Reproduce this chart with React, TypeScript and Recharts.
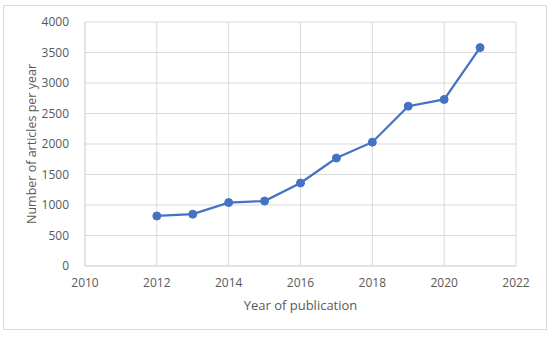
import React from 'react';
import { LineChart, Line, XAxis, YAxis, CartesianGrid, Label } from 'recharts';

const years = [2012, 2013, 2014, 2015, 2016, 2017, 2018, 2019, 2020, 2021];
const articles = [820, 850, 1040, 1065, 1360, 1770, 2030, 2620, 2730, 3580];
const xTicks = [2010, 2012, 2014, 2016, 2018, 2020, 2022];
const yTicks = [0, 500, 1000, 1500, 2000, 2500, 3000, 3500, 4000];

const data = years.map((y, i) => ({ year: y, count: articles[i] }));

const font = "Open Sans, 'Noto Sans', sans-serif";
const tickStyle = { fill: '#595959', fontSize: 12, fontFamily: font };

export default function App() {
  return (
    <div style={{ position: 'fixed', left: 0, top: 0, width: 550, height: 337, background: '#fff' }}>
      <div style={{ position: 'absolute', left: 3, top: 5, width: 542, height: 323, border: '1px solid #d9d9d9' }} />
      <div style={{ position: 'absolute', left: 0, top: 0 }}>
        <LineChart width={550} height={337} data={data} margin={{ top: 22, right: 34, bottom: 0, left: 0 }}>
          <CartesianGrid stroke="#d9d9d9" strokeWidth={1} />
          <XAxis
            dataKey="year"
            type="number"
            domain={[2010, 2022]}
            ticks={xTicks}
            tickLine={false}
            axisLine={{ stroke: '#d9d9d9' }}
            tick={tickStyle}
            tickMargin={6}
            height={71}
          >
            <Label value="Year of publication" position="insideBottom" offset={27} style={{ fill: '#595959', fontSize: 13, fontFamily: font }} />
          </XAxis>
          <YAxis
            type="number"
            domain={[0, 4000]}
            ticks={yTicks}
            tickLine={false}
            axisLine={{ stroke: '#d9d9d9' }}
            tick={tickStyle}
            tickMargin={10}
            width={85}
            interval={0}
          >
            <Label value="Number of articles per year" angle={-90} position="insideLeft" offset={32} style={{ fill: '#595959', fontSize: 12.5, fontFamily: font, textAnchor: 'middle' }} />
          </YAxis>
          <Line
            dataKey="count"
            stroke="#4472C4"
            strokeWidth={2.25}
            dot={{ r: 4, fill: '#4472C4', stroke: '#4472C4', strokeWidth: 1 }}
            isAnimationActive={false}
          />
        </LineChart>
      </div>
    </div>
  );
}
